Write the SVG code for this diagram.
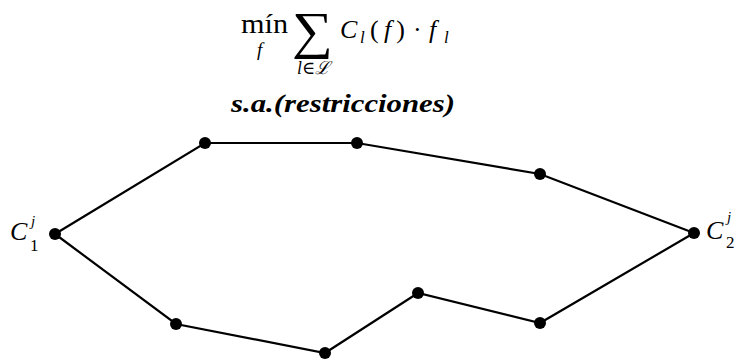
<svg xmlns="http://www.w3.org/2000/svg" width="737" height="361" viewBox="0 0 737 361">
<style>
.e{stroke:#000;stroke-width:2.2;fill:none}
.n{fill:#000}
.m{font-family:"Liberation Serif","DejaVu Serif",serif;fill:#000}
.i{font-style:italic}
</style>
<rect width="737" height="361" fill="#fff"/>
<g id="title">
<text class="m" x="241" y="33" font-size="28" textLength="47" lengthAdjust="spacingAndGlyphs">mín</text>
<text class="m i" x="257" y="56" font-size="19">f</text>
<text class="m" x="292" y="48" font-size="52" textLength="41" lengthAdjust="spacingAndGlyphs">∑</text>
<text class="m i" x="297" y="74" font-size="18" textLength="33" lengthAdjust="spacingAndGlyphs">l∈ℒ</text>
<text class="m i" x="340" y="38" font-size="26">C</text>
<text class="m i" x="360" y="43" font-size="17">l</text>
<text class="m" x="370" y="38" font-size="26" textLength="35" lengthAdjust="spacing">(<tspan class="i">f</tspan>)</text>
<text class="m" x="413" y="38" font-size="26">·</text>
<text class="m i" x="429" y="38" font-size="26">f</text>
<text class="m i" x="444" y="43" font-size="17">l</text>
<text class="m i" x="231" y="112" font-size="25" font-weight="bold" textLength="224" lengthAdjust="spacingAndGlyphs">s.a.(restricciones)</text>
</g>
<g id="connectors">
<polyline class="e" points="55,234 205,143 357,143 540,174 694,233"/>
<polyline class="e" points="55,234 176,324 325,353 418,293 540,323 694,233"/>
</g>
<g id="C1"><circle class="n" cx="55" cy="234" r="6"/>
<text class="m i" x="10" y="240" font-size="26">C</text>
<text class="m i" x="31" y="226" font-size="15">j</text>
<text class="m" x="30" y="251" font-size="17">1</text></g>
<g id="C2"><circle class="n" cx="694" cy="233" r="6"/>
<text class="m i" x="706" y="239" font-size="26">C</text>
<text class="m i" x="727" y="222" font-size="15">j</text>
<text class="m" x="726" y="248" font-size="17">2</text></g>
<g id="n1"><circle class="n" cx="205" cy="143" r="6"/></g>
<g id="n2"><circle class="n" cx="357" cy="143" r="6"/></g>
<g id="n3"><circle class="n" cx="540" cy="174" r="6"/></g>
<g id="n4"><circle class="n" cx="176" cy="324" r="6"/></g>
<g id="n5"><circle class="n" cx="325" cy="353" r="6"/></g>
<g id="n6"><circle class="n" cx="418" cy="293" r="6"/></g>
<g id="n7"><circle class="n" cx="540" cy="323" r="6"/></g>
</svg>
